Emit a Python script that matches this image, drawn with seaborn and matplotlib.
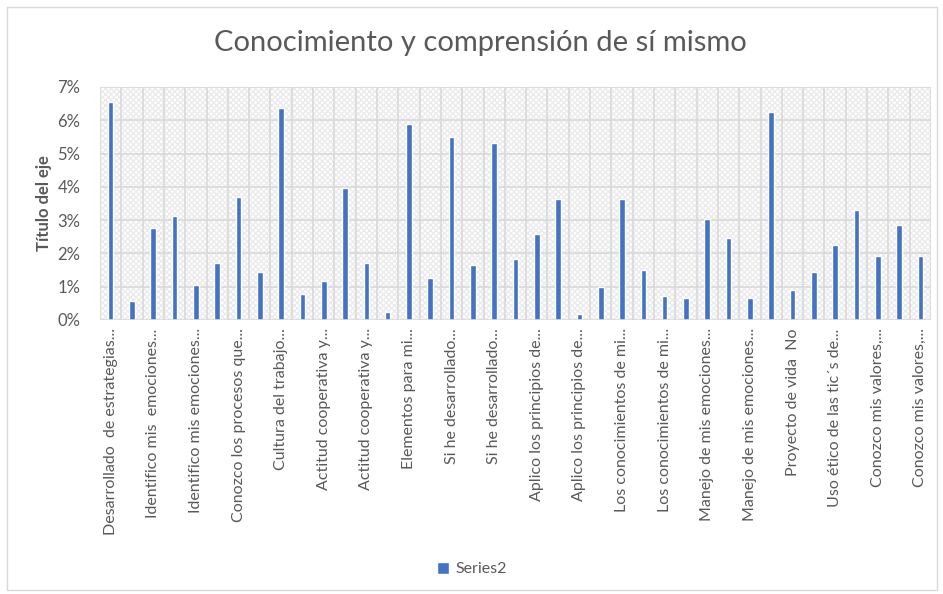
import matplotlib
matplotlib.use("Agg")
import matplotlib.pyplot as plt
from matplotlib.patches import Rectangle
from matplotlib.ticker import PercentFormatter, MultipleLocator
import seaborn as sns
import pandas as pd

# Share of responses per item (percent), one bar per item
values = [
    6.56, 0.58, 2.77, 3.11, 1.04, 1.72, 3.70, 1.45, 6.36, 0.78,
    1.18, 3.97, 1.72, 0.25, 5.90, 1.25, 5.49, 1.65, 5.31, 1.84,
    2.58, 3.64, 0.18, 0.98, 3.64, 1.51, 0.72, 0.65, 3.04, 2.45,
    0.65, 6.24, 0.91, 1.44, 2.25, 3.31, 1.91, 2.84, 1.91,
]

# Axis labels are printed on every second item
tick_labels = [
    "Desarrollado  de estrategias...",
    "Identifico mis  emociones...",
    "Identifico mis emociones...",
    "Conozco los procesos que...",
    "Cultura del trabajo...",
    "Actitud cooperativa y...",
    "Actitud cooperativa y...",
    "Elementos para mi...",
    "Si he desarrollado...",
    "Si he desarrollado...",
    "Aplico los principios de...",
    "Aplico los principios de...",
    "Los conocimientos de mi...",
    "Los conocimientos de mi...",
    "Manejo de mis emociones...",
    "Manejo de mis emociones...",
    "Proyecto de vida  No",
    "Uso ético de las tic´s de...",
    "Conozco mis valores,...",
    "Conozco mis valores,...",
]

title = "Conocimiento y comprensión de sí mismo"
y_title = "Título del eje"
series_name = "Series2"

sns.set_theme(style="white")
plt.rcParams["font.family"] = ["Lato", "DejaVu Sans"]

BAR = "#4472C4"
TXT = "#595959"
GRID = "#d9d9d9"

df = pd.DataFrame({"item": list(range(len(values))), "pct": values, "serie": series_name})

fig = plt.figure(figsize=(9.43, 5.94), dpi=100)
W, H = 943, 594
ax = fig.add_axes([100 / W, 1 - 320 / H, 831 / W, (320 - 87) / H])

# textured plot area
ax.add_patch(Rectangle((0, 0), 1, 1, transform=ax.transAxes, facecolor="white",
                       edgecolor="#ebebeb", hatch="xxxxxx", linewidth=0, zorder=0))

sns.barplot(data=df, x="item", y="pct", hue="serie", palette=[BAR], width=0.26,
            ax=ax, legend=True, zorder=3, saturation=1)

n = len(values)
ax.set_xlim(-0.5, n - 0.5)
ax.set_ylim(0, 7)
ax.yaxis.set_major_locator(MultipleLocator(1))
ax.yaxis.set_major_formatter(PercentFormatter(decimals=0))

# gridlines: horizontal at each percent, vertical between items
for yv in range(1, 8):
    ax.axhline(yv, color=GRID, lw=1.2, zorder=1)
for xv in range(n + 1):
    ax.axvline(xv - 0.5, color=GRID, lw=1.2, zorder=1)

ax.set_xticks(list(range(0, n, 2)))
ax.set_xticklabels(tick_labels, rotation=90, fontsize=11.5, color=TXT)
ax.tick_params(axis="x", length=0, pad=6)
ax.tick_params(axis="y", length=0, pad=14, labelsize=12, labelcolor=TXT)
for s in ax.spines.values():
    s.set_visible(False)
ax.axhline(0, color=GRID, lw=1.2, zorder=4)

ax.set_xlabel("")
ax.set_ylabel(y_title, fontsize=12, fontweight="bold", color=TXT, labelpad=4)

fig.text(480 / W, 1 - 43 / H, title, ha="center", va="center", fontsize=21, color=TXT)

leg = ax.legend(loc="center", bbox_to_anchor=(472 / W, 1 - 569 / H),
                bbox_transform=fig.transFigure, frameon=False, fontsize=11.5,
                handlelength=0.8, handleheight=0.8, handletextpad=0.4)
for t in leg.get_texts():
    t.set_color(TXT)

# chart frame
fig.patches.append(Rectangle((7 / W, 4 / H), 930 / W, 583 / H, transform=fig.transFigure,
                             fill=False, edgecolor="#d9d9d9", linewidth=1))

fig.savefig("out.png", dpi=100)
